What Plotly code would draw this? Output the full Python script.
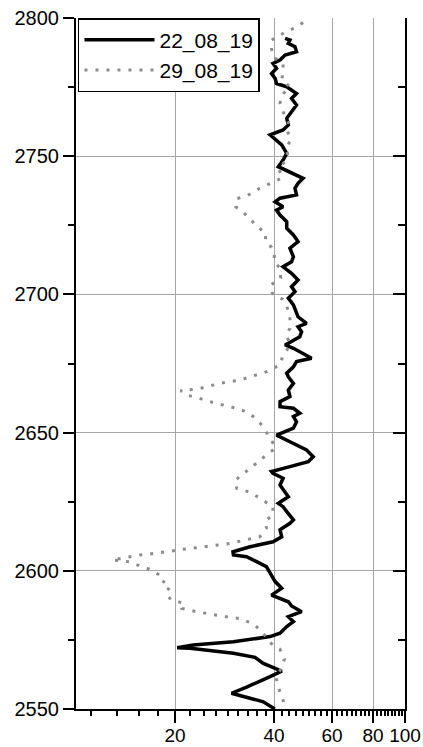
import plotly.graph_objects as go

# Profile 22_08_19: depth (m) and measured value
depth_a = [2550.0, 2552.6, 2555.7, 2557.9, 2561.7, 2563.7, 2564.7, 2566.5, 2568.7, 2570.2,
           2572.0, 2572.2, 2573.2, 2574.3, 2576.2, 2577.4, 2579.8, 2581.6, 2583.4, 2585.2,
           2587.3, 2588.8, 2591.2, 2593.7, 2596.1, 2598.5, 2601.5, 2603.3, 2605.1, 2605.7,
           2606.9, 2608.7, 2610.5, 2612.3, 2614.8, 2617.2, 2618.4, 2621.4, 2623.2, 2624.4,
           2625.6, 2626.8, 2631.0, 2633.5, 2635.3, 2635.9, 2637.7, 2639.5, 2641.3, 2643.7,
           2646.7, 2648.5, 2649.1, 2651.6, 2653.9, 2655.8, 2657.0, 2658.8, 2659.4, 2661.2,
           2663.0, 2665.4, 2667.8, 2670.2, 2671.5, 2673.8, 2675.7, 2676.9, 2678.7, 2680.5,
           2681.7, 2684.7, 2686.5, 2688.3, 2689.5, 2691.9, 2696.2, 2698.6, 2701.0, 2702.8,
           2705.2, 2707.6, 2710.0, 2711.8, 2713.6, 2716.7, 2719.1, 2721.5, 2723.9, 2726.3,
           2728.7, 2730.5, 2731.7, 2733.5, 2734.8, 2736.0, 2738.4, 2740.2, 2742.0, 2743.2,
           2745.0, 2746.2, 2748.6, 2751.0, 2754.1, 2756.5, 2757.7, 2759.5, 2761.3, 2763.7,
           2766.1, 2768.5, 2770.9, 2772.7, 2775.1, 2776.3, 2778.1, 2779.9, 2781.8, 2783.6,
           2784.8, 2786.6, 2787.8, 2789.6, 2790.8, 2792.0, 2792.6]
value_a = [40.2, 37.1, 29.7, 33.0, 38.9, 42.2, 40.3, 37.1, 35.0, 30.1,
           22.2, 20.3, 22.7, 30.1, 38.9, 41.7, 43.7, 45.8, 44.2, 48.5,
           45.2, 44.2, 39.3, 42.2, 40.3, 39.3, 37.9, 35.4, 33.0, 30.1,
           30.0, 33.8, 39.7, 42.2, 41.7, 44.7, 45.8, 43.7, 42.6, 41.2,
           42.6, 44.2, 41.7, 42.6, 39.7, 39.3, 44.7, 50.8, 52.6, 50.2,
           44.7, 41.2, 40.7, 45.8, 46.8, 45.8, 47.9, 45.8, 41.7, 41.7,
           44.7, 44.2, 45.8, 44.2, 43.7, 45.8, 46.8, 52.0, 49.0, 45.8,
           43.2, 47.9, 48.5, 47.3, 50.2, 47.3, 45.8, 44.2, 46.3, 45.2,
           47.3, 45.2, 42.6, 45.2, 45.8, 44.7, 47.3, 45.8, 43.7, 43.7,
           41.7, 40.7, 42.6, 40.3, 41.7, 46.8, 46.3, 47.3, 49.0, 46.8,
           43.2, 41.2, 42.6, 43.7, 42.2, 39.7, 38.9, 42.6, 44.2, 43.7,
           45.2, 46.8, 45.2, 46.8, 43.7, 40.7, 40.3, 39.3, 40.7, 39.7,
           41.7, 43.2, 46.8, 46.3, 44.2, 44.7, 43.2]

# Profile 29_08_19: depth (m) and measured value
depth_b = [2552.5, 2553.6, 2557.9, 2561.9, 2563.9, 2568.0, 2571.6, 2574.0, 2577.4, 2580.6,
           2582.6, 2583.4, 2584.2, 2585.2, 2586.4, 2588.2, 2589.6, 2591.9, 2594.6, 2596.7,
           2598.2, 2600.6, 2601.7, 2603.3, 2603.9, 2604.7, 2605.7, 2606.3, 2607.2, 2607.9,
           2608.5, 2609.3, 2609.9, 2611.1, 2612.3, 2615.4, 2618.4, 2619.9, 2623.2, 2625.6,
           2628.4, 2629.8, 2632.5, 2634.7, 2636.7, 2639.5, 2642.3, 2644.5, 2649.7, 2652.7,
           2655.5, 2657.8, 2659.4, 2660.6, 2662.2, 2663.6, 2665.2, 2665.7, 2666.9, 2668.2,
           2669.0, 2670.5, 2672.1, 2674.5, 2678.1, 2681.1, 2683.5, 2685.3, 2687.7, 2692.5,
           2695.6, 2698.2, 2700.4, 2703.4, 2706.0, 2709.7, 2712.1, 2714.5, 2717.0, 2719.3,
           2722.1, 2725.1, 2727.5, 2730.5, 2731.7, 2734.7, 2735.7, 2738.1, 2740.2, 2742.2,
           2745.8, 2748.6, 2751.0, 2753.1, 2756.2, 2759.5, 2762.5, 2766.1, 2769.1, 2772.1,
           2775.1, 2777.6, 2780.6, 2783.6, 2786.0, 2789.0, 2792.0, 2794.4, 2796.8, 2799.2,
           2799.7]
value_b = [42.8, 42.5, 41.2, 40.5, 41.7, 43.0, 41.7, 38.9, 37.1, 34.8,
           31.8, 28.6, 25.7, 23.2, 21.0, 21.3, 19.4, 18.8, 19.3, 18.1,
           18.1, 16.7, 15.7, 14.5, 12.9, 14.0, 15.6, 17.4, 19.3, 21.5,
           23.8, 26.4, 29.4, 32.6, 36.2, 37.9, 37.8, 39.6, 39.7, 36.9,
           33.9, 30.8, 30.5, 31.7, 33.6, 35.8, 38.2, 40.5, 38.1, 36.7,
           34.9, 32.5, 29.4, 26.6, 24.0, 21.7, 20.8, 23.3, 25.5, 28.4,
           31.5, 34.6, 38.1, 41.7, 42.6, 44.5, 44.2, 43.5, 44.7, 44.7,
           43.7, 42.5, 39.5, 39.1, 41.9, 41.5, 40.0, 40.1, 39.3, 37.6,
           37.8, 35.0, 33.9, 31.5, 30.6, 30.9, 33.1, 35.8, 39.1, 42.4,
           41.2, 43.7, 43.9, 43.7, 45.0, 43.7, 44.2, 42.6, 41.7, 42.2,
           44.7, 42.2, 42.6, 42.6, 39.7, 39.3, 39.3, 42.6, 46.8, 50.2,
           51.0]

# Axis ticks
x_major = [20, 40, 60, 80, 100]
x_labels = ["20", "40", "60", "80", "100"]
y_major = [2550, 2600, 2650, 2700, 2750, 2800]
y_minor = [2575, 2625, 2675, 2725, 2775]
y_grid = [2600, 2650, 2700, 2750]

# Minor x ticks: eight linear subdivisions between successive major ticks
x_minor = []
for lo in [0, 20, 40, 60, 80]:
    for k in range(1, 9):
        v = lo + 20 * k / 9
        if v > 10:
            x_minor.append(v)

FONT = "Liberation Sans, Arial, sans-serif"
GRID = "#a6a6a6"

fig = go.Figure()
fig.add_trace(go.Scatter(
    x=value_a, y=depth_a, mode="lines", name="22_08_19",
    line=dict(color="black", width=3.5)))
fig.add_trace(go.Scatter(
    x=value_b, y=depth_b, mode="lines", name="29_08_19",
    line=dict(color="#8c8c8c", width=3, dash="3px,8px")))
# empty traces that carry the grid axis and the right-hand axis
fig.add_trace(go.Scatter(x=[], y=[], yaxis="y3", showlegend=False, hoverinfo="skip"))
fig.add_trace(go.Scatter(x=[], y=[], yaxis="y2", showlegend=False, hoverinfo="skip"))

fig.update_layout(
    width=423, height=747,
    margin=dict(l=76, r=18, t=18, b=38),
    paper_bgcolor="white", plot_bgcolor="white",
    font=dict(family=FONT, size=20, color="black"),
    showlegend=True,
    legend=dict(
        x=0.006, y=1, xanchor="left", yanchor="top",
        bgcolor="white", bordercolor="black", borderwidth=1.5,
        font=dict(size=21), itemwidth=70),
    xaxis=dict(
        type="log", range=[1, 2], automargin=False,
        tickmode="array", tickvals=x_major, ticktext=x_labels, tickangle=0,
        tickfont=dict(size=19), ticklabelstandoff=-4,
        ticks="outside", ticklen=12, tickwidth=1.5, tickcolor="black",
        showgrid=True, gridcolor=GRID, gridwidth=1,
        showline=True, linecolor="black", linewidth=2, mirror=False,
        zeroline=False,
        minor=dict(tickmode="array", tickvals=x_minor, ticks="outside",
                   ticklen=5, tickwidth=1.5, tickcolor="black", showgrid=False),
    ),
    yaxis=dict(
        range=[2550, 2800], automargin=False,
        tickmode="array", tickvals=y_major,
        ticks="outside", ticklen=11, tickwidth=1.5, tickcolor="black",
        showgrid=False,
        showline=True, linecolor="black", linewidth=2,
        zeroline=False,
        minor=dict(tickmode="array", tickvals=y_minor, ticks="outside",
                   ticklen=6, tickwidth=1.5, tickcolor="black", showgrid=False),
    ),
    yaxis3=dict(
        overlaying="y", range=[2550, 2800], automargin=False,
        tickmode="array", tickvals=y_grid, showticklabels=False, ticks="",
        showgrid=True, gridcolor=GRID, gridwidth=1,
        showline=False, zeroline=False,
    ),
    yaxis2=dict(
        overlaying="y", side="right", range=[2550, 2800], automargin=False,
        tickmode="array", tickvals=y_major, showticklabels=False,
        ticks="inside", ticklen=12, tickwidth=1.5, tickcolor="black",
        showgrid=False, zeroline=False,
        showline=True, linecolor="black", linewidth=2,
        minor=dict(tickmode="array", tickvals=y_minor, ticks="inside",
                   ticklen=7, tickwidth=1.5, tickcolor="black", showgrid=False),
    ),
)

fig.write_html("out.html")
